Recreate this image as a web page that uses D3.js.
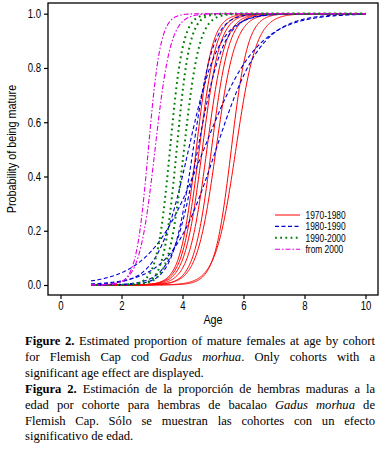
<!DOCTYPE html>
<html>
<head>
<meta charset="utf-8">
<script src="https://cdn.jsdelivr.net/npm/d3@7"></script>
<style>
  body { margin: 0; background: #fff; }
  svg { display: block; }
  .tick text, .legend text, .axis-title { font-family: "Liberation Sans", Arial, sans-serif; }
  .caption text { font-family: "Liberation Serif", "Times New Roman", serif; font-size: 12.6px; }
</style>
</head>
<body>
<svg id="chart" width="382" height="465"></svg>
<script>
// cohort groups (legend)
const groups = ["1970-1980", "1980-1990", "1990-2000", "from 2000"];

// estimated age at 50% maturity (A50) and slope of each cohort ogive
const a50_1970 = [4.45, 4.55, 4.65, 4.8, 4.95, 5.1, 5.6, 5.75];
const slope_1970 = [3.8, 3.6, 3.5, 3.4, 3.5, 3.2, 3.7, 3.0];
const a50_1980 = [4.7, 5.1, 4.2, 4.5, 4.35];
const slope_1980 = [1.13, 1.35, 2.0, 2.4, 3.0];
const a50_1990 = [3.59, 3.81, 4.05];
const slope_1990 = [4.7, 4.7, 4.0];
const a50_2000 = [2.88, 3.1];
const slope_2000 = [5.0, 3.9];

const ageRange = [1, 10];
const xTicks = [0, 2, 4, 6, 8, 10];
const yTicks = [0, 0.2, 0.4, 0.6, 0.8, 1.0];

const captionLines = [
    ["*Figure* *2.* Estimated proportion of mature females at age by cohort", true],
    ["for Flemish Cap cod _Gadus_ _morhua_. Only cohorts with a", true],
    ["significant age effect are displayed.", false],
    ["*Figura* *2.* Estimación de la proporción de hembras maduras a la", true],
    ["edad por cohorte para hembras de bacalao _Gadus_ _morhua_ de", true],
    ["Flemish Cap. Sólo se muestran las cohortes con un efecto", true],
    ["significativo de edad.", false]
];

const styles = {
    "1970-1980": {color: "#ff0000", dash: null, width: 1},
    "1980-1990": {color: "#0000d0", dash: "4,2.5", width: 1.1},
    "1990-2000": {color: "#008000", dash: "1.8,3.4", width: 2},
    "from 2000": {color: "#e000e0", dash: "5,2,1.5,2", width: 1.1}
};

const cohorts = [];
a50_1970.forEach((a, i) => cohorts.push({group: "1970-1980", a50: a, slope: slope_1970[i]}));
a50_1980.forEach((a, i) => cohorts.push({group: "1980-1990", a50: a, slope: slope_1980[i]}));
a50_1990.forEach((a, i) => cohorts.push({group: "1990-2000", a50: a, slope: slope_1990[i]}));
a50_2000.forEach((a, i) => cohorts.push({group: "from 2000", a50: a, slope: slope_2000[i]}));

const box = {left: 48, top: 3, right: 378, bottom: 295};
const narrow = 0.8; // the original sans text is horizontally squeezed

const svg = d3.select("#chart");

const x = d3.scaleLinear().domain([0, 10]).range([60.5, 365.5]);
const y = d3.scaleLinear().domain([0, 1]).range([285, 13.7]);

// frame
svg.append("rect")
    .attr("x", box.left).attr("y", box.top)
    .attr("width", box.right - box.left).attr("height", box.bottom - box.top)
    .attr("fill", "none").attr("stroke", "#000").attr("stroke-width", 1.3);

// axes
const yAxis = svg.append("g")
    .attr("transform", "translate(" + box.left + ",0)")
    .call(d3.axisLeft(y).tickValues(yTicks).tickFormat(d3.format(".1f")).tickSize(4).tickPadding(3));
const xAxis = svg.append("g")
    .attr("transform", "translate(0," + box.bottom + ")")
    .call(d3.axisBottom(x).tickValues(xTicks).tickSize(4).tickPadding(2));
[xAxis, yAxis].forEach(g => {
    g.select(".domain").remove();
    g.selectAll("line").attr("stroke-width", 1.2);
    g.selectAll("text").style("font-size", "12px").attr("fill", "#000")
        .attr("transform", "scale(" + narrow + ",1)");
});
yAxis.selectAll("text").attr("x", -7 / narrow);

svg.append("text").attr("class", "axis-title")
    .attr("transform", "translate(" + ((box.left + box.right) / 2) + ",324) scale(" + narrow + ",1)")
    .attr("text-anchor", "middle").style("font-size", "13.5px")
    .text("Age");
svg.append("text").attr("class", "axis-title")
    .attr("transform", "translate(16," + ((box.top + box.bottom) / 2) + ") rotate(-90) scale(" + narrow + ",1)")
    .attr("text-anchor", "middle").style("font-size", "13.5px")
    .text("Probability of being mature");

// ogives
const ages = d3.range(ageRange[0], ageRange[1] + 0.001, 0.02);
const line = d3.line().x(d => x(d[0])).y(d => y(d[1]));

svg.append("g").selectAll("path")
    .data(cohorts)
    .join("path")
    .attr("fill", "none")
    .attr("stroke", d => styles[d.group].color)
    .attr("stroke-width", d => styles[d.group].width)
    .attr("stroke-dasharray", d => styles[d.group].dash)
    .attr("d", d => line(ages.map(a => [a, 1 / (1 + Math.exp(-d.slope * (a - d.a50)))])));

// legend
const legend = svg.append("g").attr("class", "legend")
    .attr("transform", "translate(275,215)");
groups.forEach((g, i) => {
    const row = legend.append("g").attr("transform", "translate(0," + (i * 11.4) + ")");
    row.append("line")
        .attr("x1", 0).attr("x2", 25)
        .attr("stroke", styles[g].color)
        .attr("stroke-width", styles[g].width)
        .attr("stroke-dasharray", styles[g].dash);
    row.append("text")
        .attr("transform", "translate(30.5,3.8) scale(" + narrow + ",1)")
        .style("font-size", "10.5px")
        .text(g);
});

// caption, justified word by word
const cap = svg.append("g").attr("class", "caption");
const capLeft = 25, capWidth = 350;
captionLines.forEach(([txt, justify], li) => {
    const baseY = 345 + li * 15.9;
    const words = txt.split(" ").map(w => {
        const t = cap.append("text").attr("y", baseY);
        w.match(/(\*[^*]+\*|_[^_]+_|[^*_]+)/g).forEach(seg => {
            const ts = t.append("tspan");
            if (seg[0] === "*") ts.attr("font-weight", "bold").text(seg.slice(1, -1));
            else if (seg[0] === "_") ts.attr("font-style", "italic").text(seg.slice(1, -1));
            else ts.text(seg);
        });
        return t;
    });
    const widths = words.map(t => t.node().getComputedTextLength());
    const total = d3.sum(widths);
    const gap = justify ? (capWidth - total) / (words.length - 1) : 3.2;
    let cx = capLeft;
    words.forEach((t, i) => {
        t.attr("x", cx);
        cx += widths[i] + gap;
    });
});
</script>
</body>
</html>
